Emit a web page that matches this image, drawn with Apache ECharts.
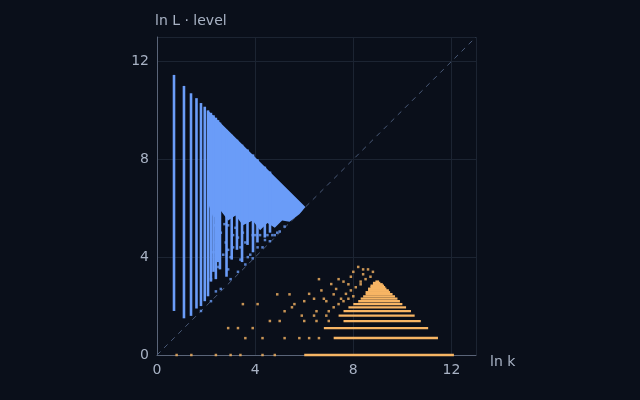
<!DOCTYPE html><html><head><meta charset="utf-8">
<script src="https://cdn.jsdelivr.net/npm/echarts@6/dist/echarts.min.js"></script>
<style>html,body{margin:0;background:#0a0f1a}#c{width:640px;height:400px}</style></head><body><div id="c"></div>
<script>
// blue columns: [ln k, yLow, yHigh]
const blueCols=[[0.693,1.8,11.45],[1.099,1.5,11.0],[1.386,1.6,10.7],[1.609,1.9,10.5],[1.792,2.0,10.3],[1.946,2.2,10.15],[2.079,2.4,10.0],[2.197,3.0,9.9],[2.303,3.4,9.8],[2.398,3.1,9.7],[2.485,3.8,9.6],[2.565,3.5,9.5],[2.833,3.2,9.2],[3.045,3.9,9.0],[3.258,4.3,8.8],[3.466,3.8,8.6],[3.689,4.5,8.4],[3.912,4.2,8.2],[4.094,4.6,8.0],[4.394,4.8,7.7],[4.605,5.0,7.5]];
// dense blue region outline
const blueRegion=[[2.08,10.0],[6.05,6.05],[5.8,5.75],[5.4,5.45],[5.1,5.5],[4.8,5.2],[4.5,5.4],[4.2,5.1],[3.9,5.5],[3.5,5.3],[3.2,5.7],[2.9,5.5],[2.6,5.9],[2.3,5.6],[2.08,6.2]];
// sparse blue points
const bluePts=[[2.3,4.2],[2.5,3.6],[2.6,5.0],[2.8,4.6],[3.0,3.1],[3.1,4.4],[3.2,5.2],[3.4,3.9],[3.5,5.0],[3.6,4.6],[3.8,4.1],[3.9,4.9],[4.1,4.4],[4.2,4.9],[4.4,4.7],[4.5,4.9],[4.7,4.9],[4.9,5.0],[5.0,5.05],[5.2,5.25],[2.2,3.1],[2.9,5.3],[3.3,4.8],[4.0,4.9],[2.9,3.5],[3.6,3.7],[1.792,1.8],[2.7,4.1],[2.4,4.6],[2.6,2.7],[3.0,4.0],[3.3,3.4],[3.7,4.0],[3.1,4.9],[2.35,5.3],[2.75,5.35],[4.3,4.4],[4.8,4.9],[2.2,2.2],[2.4,2.6],[3.9,3.95],[4.6,4.65],[3.4,4.4],[2.9,4.3]];
// orange bars: [y = ln level, xStart, xEnd]
const orangeBars=[[0,6.0,12.1],[0.693,7.2,11.45],[1.099,6.8,11.05],[1.386,7.6,10.75],[1.609,7.4,10.5],[1.792,7.6,10.35],[1.946,7.8,10.15],[2.079,8.0,10.0],[2.197,8.2,9.9],[2.303,8.3,9.8],[2.398,8.4,9.7],[2.485,8.5,9.6],[2.565,8.5,9.5],[2.639,8.6,9.45],[2.708,8.6,9.35],[2.773,8.7,9.3],[2.833,8.7,9.25],[2.890,8.8,9.2],[2.944,8.8,9.1],[3.0,8.9,9.05]];
// sparse orange points
const orangePts=[[3.9,1.1],[3.6,0.69],[4.3,0.69],[4.6,1.39],[5.0,1.39],[5.2,1.79],[5.5,1.95],[5.6,2.08],[5.9,1.61],[6.0,2.2],[6.2,2.5],[6.4,2.3],[6.5,1.79],[6.7,2.64],[6.9,2.2],[7.1,2.9],[7.3,2.7],[7.4,3.1],[7.6,3.0],[7.7,2.5],[7.9,3.2],[8.0,3.4],[8.2,3.6],[8.4,3.3],[8.6,3.5],[8.3,3.0],[7.5,2.3],[4.9,2.48],[5.4,2.48],[2.9,1.1],[3.3,1.1],[3.5,2.08],[4.1,2.08],[6.6,3.1],[1.4,0],[2.4,0],[3.0,0],[3.4,0],[0.8,0],[4.3,0],[4.8,0],[5.2,0.69],[5.8,0.69],[6.2,0.69],[6.6,0.69],[6.0,1.39],[6.5,1.39],[7.0,1.39],[6.4,1.61],[6.9,1.61],[7.0,1.79],[7.2,1.95],[7.4,2.08],[7.6,2.2],[7.8,2.3],[8.0,2.4],[7.9,2.64],[8.1,2.77],[8.3,2.89],[8.5,3.1],[8.7,3.2],[7.2,2.48],[6.8,2.3],[8.8,3.4],[8.4,3.5],[7.8,2.89]];
const axisTicks=[0,4,8,12];

const chart=echarts.init(document.getElementById('c'));
const blue='#6a9cf8',orange='#f7b564';
function rectSeries(data,color,vertical){
 return {type:'custom',data:data,renderItem:function(p,api){
  let a,b;
  if(vertical){a=api.coord([api.value(0),api.value(2)]);b=api.coord([api.value(0),api.value(1)]);
   return {type:'rect',shape:{x:a[0]-1.3,y:a[1],width:2.6,height:b[1]-a[1]},style:{fill:color}};}
  a=api.coord([api.value(1),api.value(0)]);b=api.coord([api.value(2),api.value(0)]);
  return {type:'rect',shape:{x:a[0],y:a[1]-1.2,width:b[0]-a[0],height:2.4},style:{fill:color}};
 },silent:true,z:3};
}
const axCommon={min:0,max:13,interval:4,splitLine:{lineStyle:{color:'#1c2432'}},axisLine:{lineStyle:{color:'#5a6478'}},axisTick:{show:false},axisLabel:{color:'#a8b2c4',fontSize:14,fontFamily:'DejaVu Sans',customValues:axisTicks},nameTextStyle:{color:'#a8b2c4',fontSize:14,fontFamily:'DejaVu Sans'}};
chart.setOption({backgroundColor:'#0a0f1a',animation:false,
 grid:{left:157,right:164,top:37,bottom:45},
 xAxis:Object.assign({},axCommon,{type:'value',name:'ln k',nameGap:14,nameTextStyle:Object.assign({},axCommon.nameTextStyle,{verticalAlign:'top'})}),
 yAxis:Object.assign({},axCommon,{type:'value',name:'ln L · level',nameGap:9,nameTextStyle:Object.assign({},axCommon.nameTextStyle,{align:'left',padding:[0,0,0,-2]})}),
 series:[
  {type:'line',data:[[0,0],[13,13]],symbol:'none',lineStyle:{color:'#4a5a78',width:1,type:[5,5]},z:1},
  {type:'custom',data:[0],renderItem:function(p,api){return {type:'polygon',shape:{points:blueRegion.map(q=>api.coord(q))},style:{fill:blue}};},silent:true,z:2},
  rectSeries(blueCols,blue,true),
  {type:'scatter',data:bluePts,symbol:'rect',symbolSize:2.5,itemStyle:{color:blue},z:3},
  rectSeries(orangeBars,orange,false),
  {type:'scatter',data:orangePts,symbol:'rect',symbolSize:2.5,itemStyle:{color:orange},z:3}
 ]});
</script></body></html>
